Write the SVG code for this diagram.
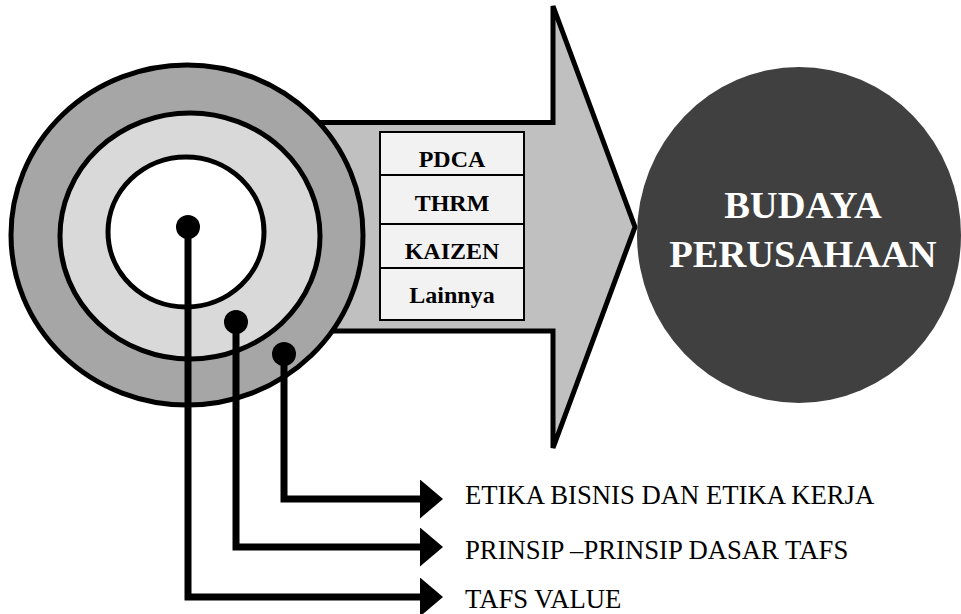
<svg xmlns="http://www.w3.org/2000/svg" width="961" height="614" viewBox="0 0 961 614">
<style>
.ring{stroke:#000;stroke-width:5}
.cell{fill:#f2f2f2;stroke:#000;stroke-width:2}
.tbl{font-family:"Liberation Serif","DejaVu Serif",serif;font-weight:bold;font-size:24px;fill:#000;text-anchor:middle}
.lbl{font-family:"Liberation Serif","DejaVu Serif",serif;font-size:26.7px;fill:#000}
.big{font-family:"Liberation Serif","DejaVu Serif",serif;font-weight:bold;font-size:38.5px;fill:#fff;text-anchor:middle}
.conn{fill:none;stroke:#000;stroke-width:7;stroke-linejoin:miter}
.dot{fill:#000}
</style>
<defs>
<marker id="ah" viewBox="0 0 23 39" markerWidth="23" markerHeight="39" refX="0" refY="19.5" markerUnits="userSpaceOnUse" orient="auto">
<path d="M0,0 L23,19.5 L0,39 Z" fill="#000"/>
</marker>
</defs>
<g id="arrow">
<polygon points="300,122.5 553,122.5 553,6 635,227 553,448 553,331 300,331" fill="#c0c0c0" stroke="#000" stroke-width="5" stroke-linejoin="miter"/>
</g>
<g id="table">
<rect class="cell" x="380" y="132" width="144" height="43"/>
<rect class="cell" x="380" y="175" width="144" height="49"/>
<rect class="cell" x="380" y="224" width="144" height="44"/>
<rect class="cell" x="380" y="268" width="144" height="52"/>
<text class="tbl" x="452" y="167">PDCA</text>
<text class="tbl" x="452" y="211">THRM</text>
<text class="tbl" x="452" y="259">KAIZEN</text>
<text class="tbl" x="452" y="303">Lainnya</text>
</g>
<g id="rings">
<ellipse class="ring" cx="187" cy="235" rx="176" ry="170" fill="#a6a6a6"/>
<ellipse class="ring" cx="190" cy="236" rx="130" ry="123" fill="#d9d9d9"/>
<ellipse class="ring" cx="186" cy="232" rx="78" ry="75" fill="#fff"/>
</g>
<g id="budaya">
<ellipse cx="799" cy="235" rx="162" ry="168" fill="#404040"/>
<text class="big" x="803" y="218">BUDAYA</text>
<text class="big" x="803" y="267">PERUSAHAAN</text>
</g>
<g id="connectors">
<path class="conn" d="M188,227 V597 H420" marker-end="url(#ah)"/>
<path class="conn" d="M236,322 V547 H420" marker-end="url(#ah)"/>
<path class="conn" d="M284,354 V499 H420" marker-end="url(#ah)"/>
<circle class="dot" cx="188" cy="227" r="12"/>
<circle class="dot" cx="236" cy="322" r="12"/>
<circle class="dot" cx="284" cy="354" r="12"/>
</g>
<g id="labels">
<text class="lbl" x="465" y="504">ETIKA BISNIS DAN ETIKA KERJA</text>
<text class="lbl" x="465" y="559">PRINSIP –PRINSIP DASAR TAFS</text>
<text class="lbl" x="465" y="608">TAFS VALUE</text>
</g>
</svg>
